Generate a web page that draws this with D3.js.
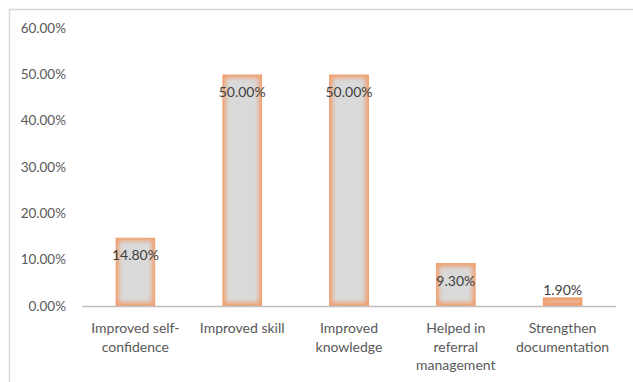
<!DOCTYPE html>
<html><head><meta charset="utf-8">
<script src="https://cdn.jsdelivr.net/npm/d3@7"></script>
<style>html,body{margin:0;padding:0;background:#fff;}svg{display:block;}</style>
</head><body>
<svg id="chart" width="633" height="382"></svg>
<script>
const categories = [
  ["Improved self-", "confidence"],
  ["Improved skill"],
  ["Improved", "knowledge"],
  ["Helped in", "referral", "management"],
  ["Strengthen", "documentation"]
];
const values = [14.8, 50.0, 50.0, 9.3, 1.9];
const yTicks = [0, 10, 20, 30, 40, 50, 60];

(function () {
const svg = d3.select("#chart");
const font = "Lato, 'Open Sans', sans-serif";
const textColor = "#595959";

// outer border
svg.append("rect").attr("x", 9.5).attr("y", 9.5).attr("width", 640).attr("height", 400)
  .attr("fill", "none").attr("stroke", "#d9d9d9").attr("stroke-width", 1.5);

const defs = svg.append("defs");
const f = defs.append("filter").attr("id", "blur").attr("x", "-20%").attr("y", "-20%").attr("width", "140%").attr("height", "140%");
f.append("feGaussianBlur").attr("stdDeviation", 2.2);

const pLeft = 82, pRight = 616, pTop = 28, pBottom = 306;
const idx = d3.range(values.length);
const x = d3.scaleBand().domain(idx).range([pLeft, pRight]).paddingInner(0.625).paddingOuter(0.3125);
const y = d3.scaleLinear().domain([0, 60]).range([pBottom, pTop]);

// y axis labels
const yAxis = d3.axisLeft(y).tickValues(yTicks).tickSize(0).tickPadding(0)
  .tickFormat(d => d.toFixed(2) + "%");
const gy = svg.append("g").attr("transform", `translate(66,0)`).call(yAxis);
gy.select(".domain").remove();
gy.selectAll("text").attr("fill", textColor).style("font-family", font).style("font-size", "13.5px");

// bars
const bars = svg.append("g");
idx.forEach(i => {
  const bx = x(i), bw = x.bandwidth(), by = y(values[i]), bh = pBottom - by;
  const clipId = "clip" + i;
  defs.append("clipPath").attr("id", clipId).append("rect")
    .attr("x", bx).attr("y", by).attr("width", bw).attr("height", bh);
  const g = bars.append("g").attr("clip-path", `url(#${clipId})`);
  g.append("rect").attr("x", bx).attr("y", by).attr("width", bw).attr("height", bh).attr("fill", "#f0a070");
  const ins = Math.min(3.5, bh / 2 - 0.5);
  g.append("rect").attr("x", bx + ins).attr("y", by + ins)
    .attr("width", Math.max(0, bw - 2 * ins)).attr("height", Math.max(0, bh - 2 * ins))
    .attr("fill", "#d9d9d9").attr("filter", "url(#blur)");
});

// x axis line
svg.append("line").attr("x1", pLeft).attr("x2", pRight).attr("y1", pBottom + 0.5).attr("y2", pBottom + 0.5)
  .attr("stroke", "#bfbfbf").attr("stroke-width", 1.5);

// value labels
svg.append("g").selectAll("text").data(idx).join("text")
  .attr("x", i => x(i) + x.bandwidth() / 2)
  .attr("y", i => {
    const t = y(values[i]);
    return (pBottom - t) < 20 ? t - 2 : t + 23;
  })
  .attr("text-anchor", "middle")
  .attr("fill", "#404040")
  .style("font-family", font).style("font-size", "14px")
  .text(i => values[i].toFixed(2) + "%");

// category labels
const cg = svg.append("g");
idx.forEach(i => {
  const t = cg.append("text").attr("text-anchor", "middle")
    .attr("fill", textColor).style("font-family", font).style("font-size", "14px");
  categories[i].forEach((line, k) => {
    t.append("tspan").attr("x", x(i) + x.bandwidth() / 2).attr("y", 333 + k * 18.5).text(line);
  });
});
})();
</script>
</body></html>
